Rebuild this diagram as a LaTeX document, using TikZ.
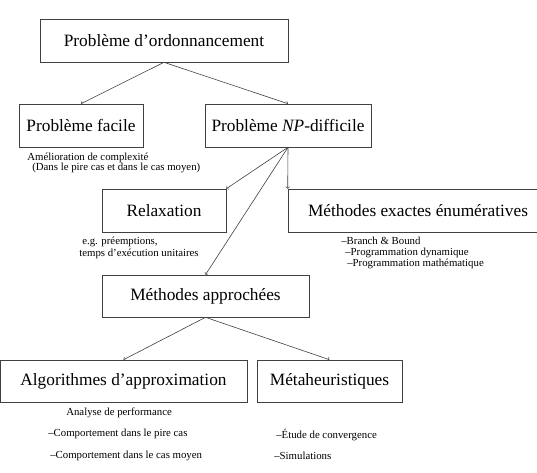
\documentclass[tikz,border=0pt]{standalone}
\usepackage{fontspec}
\setmainfont{Liberation Serif}
\usetikzlibrary{arrows}

\begin{document}
\begin{tikzpicture}[x=1pt, y=-1pt, ->, >=to, black!75, line width=0.6pt,
  box/.style={draw, rectangle, minimum height=43pt, inner sep=0pt, text=black, font=\fontsize{17.3}{20}\selectfont},
  note/.style={anchor=base west, inner sep=0pt, text=black, font=\fontsize{10.8}{12}\selectfont}]
\useasboundingbox (0,0) rectangle (537,472);
% boxes
\node[box, minimum width=248pt] (ordo) at (164,40.5) {Problème d'ordonnancement};
\node[box, minimum width=124pt] (facile) at (81,125.5) {Problème facile};
\node[box, minimum width=166pt] (np) at (288,125.5) {Problème \textit{NP}-difficile};
\node[box, minimum width=124pt] (relax) at (164,210.5) {Relaxation};
\node[box, minimum width=260pt] (exact) at (418,210.5) {Méthodes exactes énumératives};
\node[box, minimum width=207pt, minimum height=42pt] (approche) at (205.5,296) {Méthodes approchées};
\node[box, minimum width=247pt, minimum height=42pt] (algo) at (123.5,381) {Algorithmes d'approximation};
\node[box, minimum width=145pt, minimum height=42pt] (meta) at (329.5,381) {Métaheuristiques};
% notes
\node[note] (n1) at (27,160) {Amélioration de complexité};
\node[note] (n2) at (32,170) {(Dans le pire cas et dans le cas moyen)};
\node[note] (n3) at (82,244) {e.g. préemptions,};
\node[note] (n4) at (79,256) {temps d'exécution unitaires};
\node[note] (n5) at (341,244.5) {--Branch \& Bound};
\node[note] (n6) at (345,255) {--Programmation dynamique};
\node[note] (n7) at (347,266.5) {--Programmation mathématique};
\node[note] (n8) at (66,415) {Analyse de performance};
\node[note] (n9) at (48,436.5) {--Comportement dans le pire cas};
\node[note] (n10) at (50,458) {--Comportement dans le cas moyen};
\node[note] (n11) at (276,438.5) {--Étude de convergence};
\node[note] (n12) at (274,459) {--Simulations};
% arrows
\draw (ordo.south) -- (facile.north);
\draw (ordo.south) -- (np.north);
\draw (np.south) -- (relax.north east);
\draw (np.south) -- (exact.north west);
\draw (np.south) -- (approche.north);
\draw (approche.south) -- (algo.north);
\draw (approche.south) -- (meta.north);
\end{tikzpicture}
\end{document}
